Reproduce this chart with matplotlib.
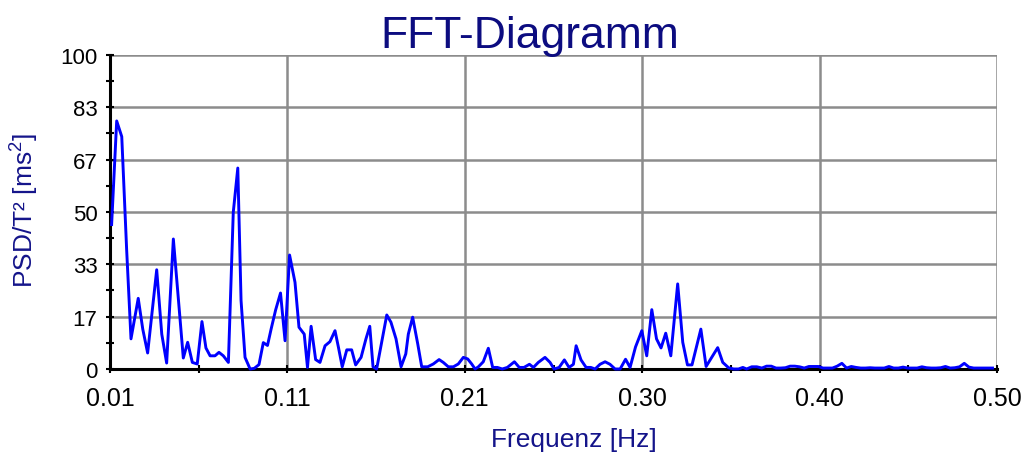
import numpy as np
import matplotlib.pyplot as plt
from matplotlib.ticker import FixedLocator, AutoMinorLocator, FuncFormatter

plt.rcParams['font.family'] = ['Liberation Sans', 'DejaVu Sans']
plt.rcParams['mathtext.fontset'] = 'custom'
plt.rcParams['mathtext.rm'] = 'Liberation Sans'
plt.rcParams['mathtext.it'] = 'Liberation Sans:italic'

# spectrum, low band (irregular bins as exported)
freq_low = [0.0109, 0.0137, 0.0165, 0.0192, 0.0216, 0.0256, 0.0281, 0.0308, 0.0358, 0.0386,
            0.0413, 0.0450, 0.0505, 0.0529, 0.0555, 0.0582, 0.0608, 0.0630, 0.0653, 0.0680,
            0.0702, 0.0726, 0.0754, 0.0781, 0.0806, 0.0824, 0.0846, 0.0874, 0.0897, 0.0923,
            0.0947, 0.0970, 0.0990, 0.1015, 0.1042, 0.1067, 0.1092, 0.1122, 0.1144, 0.1173,
            0.1191, 0.1211, 0.1236, 0.1260, 0.1288, 0.1315, 0.1343, 0.1362, 0.1383, 0.1408,
            0.1435, 0.1457, 0.1487, 0.1514, 0.1535, 0.1553, 0.1573, 0.1629, 0.1652, 0.1680,
            0.1708, 0.1734, 0.1748, 0.1772, 0.1800, 0.1822, 0.1855, 0.1886, 0.1918, 0.1941,
            0.1969, 0.1997, 0.2024, 0.2052, 0.2076, 0.2098, 0.2117, 0.2135, 0.2162, 0.2190,
            0.2214, 0.2240, 0.2267, 0.2295, 0.2334, 0.2361, 0.2387, 0.2417, 0.2439, 0.2466,
            0.2503, 0.2531, 0.2553, 0.2581, 0.2610, 0.2636, 0.2660, 0.2675, 0.2702, 0.2730,
            0.2756, 0.2780, 0.2807, 0.2835, 0.2862, 0.2890, 0.2918, 0.2948, 0.2973, 0.3003,
            0.3038, 0.3065, 0.3093, 0.3119, 0.3144, 0.3170, 0.3198, 0.3236, 0.3264, 0.3290,
            0.3315, 0.3364, 0.3393, 0.3424, 0.3457, 0.3485, 0.3517, 0.3545, 0.3572, 0.3596,
            0.3617, 0.3645, 0.3673]
psd_low = [46, 79, 74, 38, 9.6, 22.5, 12.7, 5.1, 31.6, 11.1,
           1.9, 41.4, 3.5, 8.5, 2.1, 1.6, 15.1, 6.7, 4.2, 4.2,
           5.3, 4.2, 2.1, 49.9, 64, 21.8, 3.7, 0, 0.2, 1.4,
           8.4, 7.5, 12.7, 18.8, 24.2, 9, 36.3, 27.6, 13.3, 11.1,
           0.5, 13.6, 3, 2.1, 7.4, 8.7, 12.2, 6.9, 0.7, 6.1,
           6.1, 1.3, 3.7, 9.6, 13.6, 0.7, 0, 17.2, 14.9, 9.6,
           0.7, 4.8, 11.1, 16.5, 8, 0.7, 0.7, 1.6, 3, 2.1,
           0.7, 0.7, 1.6, 3.7, 3.2, 1.6, 0, 0.7, 2.3, 6.6,
           0.5, 0.5, 0, 0.5, 2.3, 0.5, 0.5, 1.5, 0.5, 2.1,
           3.7, 2.1, 0, 0.5, 2.9, 0.5, 1.5, 7.4, 2.9, 0.5,
           0.5, 0, 1.5, 2.3, 1.5, 0, 0, 3.1, 0.5, 7,
           12.2, 4.2, 18.9, 9.6, 6.7, 11.4, 4.2, 27.1, 8.5, 1.3,
           1.3, 12.7, 0.8, 3.7, 6.8, 2.1, 0.4, 0, 0, 0.5,
           0, 0.7, 0.7]

# spectrum, high band
freq_high = [0.3701, 0.3727, 0.3753, 0.3779, 0.3805, 0.3831, 0.3857, 0.3883, 0.3909, 0.3935,
             0.3961, 0.3987, 0.4013, 0.4039, 0.4065, 0.4091, 0.4117, 0.4143, 0.4169, 0.4195,
             0.4221, 0.4247, 0.4273, 0.4299, 0.4325, 0.4351, 0.4377, 0.4403, 0.4429, 0.4455,
             0.4481, 0.4507, 0.4533, 0.4559, 0.4585, 0.4611, 0.4637, 0.4663, 0.4689, 0.4715,
             0.4741, 0.4767, 0.4793, 0.4819, 0.4845, 0.4871, 0.4897, 0.4923, 0.4949, 0.4975]
psd_high = [0.3, 0.9, 0.9, 0.3, 0.3, 0.4, 0.9, 0.9, 0.7, 0.3,
            0.8, 0.8, 0.8, 0.3, 0.3, 0.3, 0.9, 1.8, 0.3, 0.8,
            0.5, 0.3, 0.3, 0.4, 0.3, 0.3, 0.3, 0.8, 0.3, 0.3,
            0.6, 0.3, 0.3, 0.3, 0.7, 0.4, 0.3, 0.3, 0.4, 0.8,
            0.3, 0.4, 0.7, 1.8, 0.6, 0.3, 0.3, 0.3, 0.3, 0.3]

freq = np.array(freq_low + freq_high)
psd = np.array(psd_low + psd_high)

x_ticks = np.linspace(0.01, 0.50, 6)
y_ticks = np.linspace(0, 100, 7)

navy = '#14148a'

fig = plt.figure(figsize=(10.27, 4.56), dpi=100)
ax = fig.add_axes([0.1071, 0.1886, 0.8637, 0.6886])

ax.plot(freq, psd, color='#0000ff', linewidth=2.1, zorder=3, clip_on=False)

ax.set_xlim(0.01, 0.50)
ax.set_ylim(0, 100)
ax.xaxis.set_major_locator(FixedLocator(x_ticks))
ax.yaxis.set_major_locator(FixedLocator(y_ticks))
ax.xaxis.set_major_formatter(FuncFormatter(lambda v, p: f'{v:.2f}'))
ax.yaxis.set_major_formatter(FuncFormatter(lambda v, p: f'{v:.0f}'))
ax.xaxis.set_minor_locator(AutoMinorLocator(2))
ax.yaxis.set_minor_locator(AutoMinorLocator(2))

ax.grid(True, which='major', color='#8c8c8c', linewidth=1.8)
ax.set_axisbelow(True)
for side in ['top', 'right']:
    ax.spines[side].set_visible(False)
for side in ['left', 'bottom']:
    ax.spines[side].set_linewidth(2.2)
    ax.spines[side].set_color('black')
    ax.spines[side].set_zorder(2.5)

ax.tick_params(axis='both', which='both', direction='inout', length=6, width=1.5, color='black')
ax.tick_params(axis='x', which='major', labelsize=18, pad=9)
ax.tick_params(axis='y', which='major', labelsize=16, pad=6)

fig.text(0.516, 0.895, 'FFT-Diagramm', ha='center', va='baseline', fontsize=32, color='#0c0c80')
fig.text(0.559, 0.02, 'Frequenz [Hz]', ha='center', va='baseline', fontsize=19, color=navy)
fig.text(0.0243, 0.539, 'PSD/T² [ms$^2$]', ha='center', va='center', rotation=90,
         fontsize=19, color=navy)

fig.savefig('out.png', dpi=100)
